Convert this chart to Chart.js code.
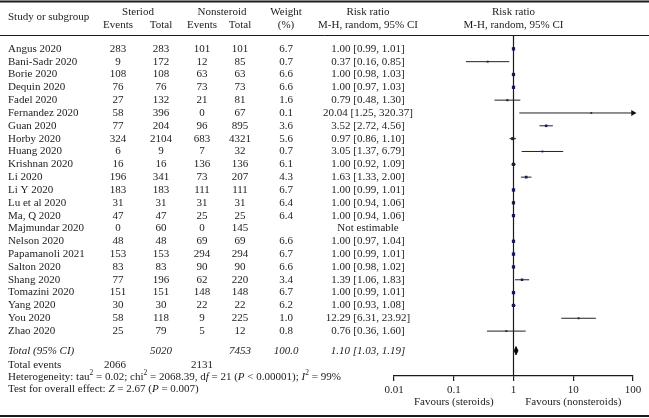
<!DOCTYPE html>
<html>
<head>
<meta charset="utf-8">
<script src="https://cdn.jsdelivr.net/npm/chart.js@4.4.1/dist/chart.umd.min.js"></script>
<style>
  html, body { margin: 0; padding: 0; background: #fff; }
  canvas { display: block; }
</style>
</head>
<body>
<canvas id="forestChart" width="649" height="418"></canvas>
<script>
const studies = [
  "Angus 2020", "Bani-Sadr 2020", "Borie 2020", "Dequin 2020", "Fadel 2020",
  "Fernandez 2020", "Guan 2020", "Horby 2020", "Huang 2020", "Krishnan 2020",
  "Li 2020", "Li Y 2020", "Lu et al 2020", "Ma, Q 2020", "Majmundar 2020",
  "Nelson 2020", "Papamanoli 2021", "Salton 2020", "Shang 2020", "Tomazini 2020",
  "Yang 2020", "You 2020", "Zhao 2020"
];
const steroidEvents = [283, 9, 108, 76, 27, 58, 77, 324, 6, 16, 196, 183, 31, 47, 0, 48, 153, 83, 77, 151, 30, 58, 25];
const steroidTotal = [283, 172, 108, 76, 132, 396, 204, 2104, 9, 16, 341, 183, 31, 47, 60, 48, 153, 83, 196, 151, 30, 118, 79];
const nonsteroidEvents = [101, 12, 63, 73, 21, 0, 96, 683, 7, 136, 73, 111, 31, 25, 0, 69, 294, 90, 62, 148, 22, 9, 5];
const nonsteroidTotal = [101, 85, 63, 73, 81, 67, 895, 4321, 32, 136, 207, 111, 31, 25, 145, 69, 294, 90, 220, 148, 22, 225, 12];
const weights = [6.7, 0.7, 6.6, 6.6, 1.6, 0.1, 3.6, 5.6, 0.7, 6.1, 4.3, 6.7, 6.4, 6.4, null, 6.6, 6.7, 6.6, 3.4, 6.7, 6.2, 1.0, 0.8];
const riskRatio = [1.00, 0.37, 1.00, 1.00, 0.79, 20.04, 3.52, 0.97, 3.05, 1.00, 1.63, 1.00, 1.00, 1.00, null, 1.00, 1.00, 1.00, 1.39, 1.00, 1.00, 12.29, 0.76];
const ciLow = [0.99, 0.16, 0.98, 0.97, 0.48, 1.25, 2.72, 0.86, 1.37, 0.92, 1.33, 0.99, 0.94, 0.94, null, 0.97, 0.99, 0.98, 1.06, 0.99, 0.93, 6.31, 0.36];
const ciHigh = [1.01, 0.85, 1.03, 1.03, 1.30, 320.37, 4.56, 1.10, 6.79, 1.09, 2.00, 1.01, 1.06, 1.06, null, 1.04, 1.01, 1.02, 1.83, 1.01, 1.08, 23.92, 1.60];

const pooled = { rr: 1.10, low: 1.03, high: 1.19 };
const totals = { steroid: 5020, nonsteroid: 7453, weight: "100.0", steroidEvents: 2066, nonsteroidEvents: 2131 };
const heterogeneity = { tau2: "0.02", chi2: "2068.39", df: "21", p: "< 0.00001", i2: "99%" };
const overall = { z: "2.67", p: "= 0.007" };

const xTicks = [0.01, 0.1, 1, 10, 100];
const xTickLabels = ["0.01", "0.1", "1", "10", "100"];

(function () {
  const canvas = document.getElementById("forestChart");
  const ctx = canvas.getContext("2d");

  const SERIF = "'Liberation Serif', 'DejaVu Serif', serif";
  const TEXT = "#1e1b1c";
  const LINE = "#222222";
  const MARK = "#1a1a66";
  const xMax = xTicks[xTicks.length - 1];
  const totalRowY = 23.53;

  const datasets = [];

  // confidence interval lines
  studies.forEach(function (name, i) {
    if (riskRatio[i] === null) {
      return;
    }
    const clipped = ciHigh[i] > xMax;
    datasets.push({
      data: [{ x: ciLow[i], y: i }, { x: clipped ? xMax : ciHigh[i], y: i }],
      showLine: true,
      borderColor: LINE,
      borderWidth: 1,
      pointRadius: clipped ? [0, 3.5] : 0,
      pointStyle: "triangle",
      rotation: 90,
      pointBackgroundColor: "#111",
      pointBorderColor: "#111",
      pointBorderWidth: 0,
      clip: false,
    });
  });

  // line of no effect
  datasets.push({
    data: [{ x: 1, y: -1 }, { x: 1, y: 25.5 }],
    showLine: true,
    borderColor: "#1a1a1a",
    borderWidth: 1.2,
    pointRadius: 0,
  });

  // point estimates
  const pointData = [];
  const pointSizes = [];
  studies.forEach(function (name, i) {
    if (riskRatio[i] === null) {
      return;
    }
    pointData.push({ x: riskRatio[i], y: i });
    pointSizes.push(1.2 + weights[i] * 0.17);
  });
  datasets.push({
    data: pointData,
    pointStyle: "rect",
    pointRadius: pointSizes,
    pointBackgroundColor: MARK,
    pointBorderColor: MARK,
    pointBorderWidth: 0,
    showLine: false,
  });

  // pooled diamond
  datasets.push({
    data: [
      { x: pooled.low, y: totalRowY },
      { x: pooled.rr, y: totalRowY - 0.33 },
      { x: pooled.high, y: totalRowY },
      { x: pooled.rr, y: totalRowY + 0.33 },
      { x: pooled.low, y: totalRowY },
    ],
    showLine: true,
    borderColor: "#000",
    borderWidth: 0.8,
    backgroundColor: "#000",
    fill: "shape",
    pointRadius: 0,
    clip: false,
  });

  function font(size, italic) {
    return (italic ? "italic " : "") + size + "px " + SERIF;
  }

  function text(str, x, y, align, italic) {
    ctx.font = font(11, italic);
    ctx.textAlign = align || "center";
    ctx.textBaseline = "middle";
    ctx.fillStyle = TEXT;
    ctx.fillText(str, x, y);
  }

  // runs: [text, italic, superscript]
  function runs(parts, x, y) {
    ctx.textAlign = "left";
    ctx.textBaseline = "middle";
    ctx.fillStyle = TEXT;
    let cx = x;
    parts.forEach(function (p) {
      const sup = p[2];
      ctx.font = font(sup ? 7.5 : 11, p[1]);
      ctx.fillText(p[0], cx, sup ? y - 4 : y);
      cx += ctx.measureText(p[0]).width;
    });
  }

  function hline(y, width) {
    ctx.save();
    ctx.strokeStyle = "#1a1a1a";
    ctx.lineWidth = width;
    ctx.beginPath();
    ctx.moveTo(0, y);
    ctx.lineTo(649, y);
    ctx.stroke();
    ctx.restore();
  }

  const tablePlugin = {
    id: "forestTable",
    afterDraw: function (chart) {
      const ys = chart.scales.y;
      const xs = chart.scales.x;
      const colStudy = 8;
      const colSE = 118;
      const colST = 161;
      const colNE = 202;
      const colNT = 240;
      const colW = 286;
      const colRR = 368;
      const colPlot = xs.getPixelForValue(1);

      ctx.save();
      hline(1.5, 2);
      hline(35.5, 1);
      hline(416, 2);

      // header
      text("Study or subgroup", colStudy, 17, "left");
      text("Steriod", 138, 12);
      text("Events", colSE, 25);
      text("Total", colST, 25);
      text("Nonsteroid", 222, 12);
      text("Events", colNE, 25);
      text("Total", colNT, 25);
      text("Weight", colW, 12);
      text("(%)", colW, 25);
      text("Risk ratio", colRR, 12);
      text("M-H, random, 95% CI", colRR, 25);
      text("Risk ratio", colPlot, 12);
      text("M-H, random, 95% CI", colPlot, 25);

      // study rows
      studies.forEach(function (name, i) {
        const y = ys.getPixelForValue(i);
        text(name, colStudy, y, "left");
        text(String(steroidEvents[i]), colSE, y);
        text(String(steroidTotal[i]), colST, y);
        text(String(nonsteroidEvents[i]), colNE, y);
        text(String(nonsteroidTotal[i]), colNT, y);
        if (weights[i] !== null) {
          text(weights[i].toFixed(1), colW, y);
        }
        if (riskRatio[i] === null) {
          text("Not estimable", colRR, y);
        } else {
          text(riskRatio[i].toFixed(2) + " [" + ciLow[i].toFixed(2) + ", " + ciHigh[i].toFixed(2) + "]", colRR, y);
        }
      });

      // total row
      const ty = ys.getPixelForValue(totalRowY);
      text("Total (95% CI)", colStudy, ty, "left", true);
      text(String(totals.steroid), colST, ty, "center", true);
      text(String(totals.nonsteroid), colNT, ty, "center", true);
      text(totals.weight, colW, ty, "center", true);
      text(pooled.rr.toFixed(2) + " [" + pooled.low.toFixed(2) + ", " + pooled.high.toFixed(2) + "]", colRR, ty, "center", true);

      text("Total events", colStudy, 365, "left");
      text(String(totals.steroidEvents), 115, 365);
      text(String(totals.nonsteroidEvents), 202, 365);

      runs([
        ["Heterogeneity: tau", false], ["2", false, true],
        [" = " + heterogeneity.tau2 + "; chi", false], ["2", false, true],
        [" = " + heterogeneity.chi2 + ", d", false], ["f", true],
        [" = " + heterogeneity.df + " (", false], ["P", true],
        [" " + heterogeneity.p + "); ", false], ["I", true], ["2", false, true],
        [" = " + heterogeneity.i2, false],
      ], colStudy, 377);

      runs([
        ["Test for overall effect: ", false], ["Z", true],
        [" = " + overall.z + " (", false], ["P", true],
        [" " + overall.p + ")", false],
      ], colStudy, 389);

      // favours labels
      text("Favours (steroids)", xs.getPixelForValue(0.1), 402);
      text("Favours (nonsteroids)", xs.getPixelForValue(10), 402);
      ctx.restore();
    },
  };

  new Chart(ctx, {
    type: "scatter",
    data: { datasets: datasets },
    options: {
      responsive: false,
      animation: false,
      devicePixelRatio: 1,
      layout: { padding: { left: 394, right: 16, top: 36, bottom: 0 } },
      plugins: {
        legend: { display: false },
        tooltip: { enabled: false },
      },
      scales: {
        x: {
          type: "logarithmic",
          min: xTicks[0],
          max: xMax,
          afterBuildTicks: function (scale) {
            scale.ticks = xTicks.map(function (v) { return { value: v }; });
          },
          afterFit: function (scale) {
            scale.height = 42;
          },
          ticks: {
            autoSkip: false,
            maxRotation: 0,
            padding: 3,
            color: TEXT,
            font: { family: SERIF, size: 11 },
            callback: function (value) {
              const idx = xTicks.indexOf(value);
              return idx >= 0 ? xTickLabels[idx] : "";
            },
          },
          grid: {
            display: true,
            drawOnChartArea: false,
            drawTicks: true,
            tickLength: 5,
            color: "#1a1a1a",
            lineWidth: 1.2,
          },
          border: { display: true, color: "#1a1a1a", width: 1.2 },
        },
        y: {
          type: "linear",
          reverse: true,
          min: -1,
          max: 25.5,
          display: false,
        },
      },
    },
    plugins: [tablePlugin],
  });
})();
</script>
</body>
</html>
